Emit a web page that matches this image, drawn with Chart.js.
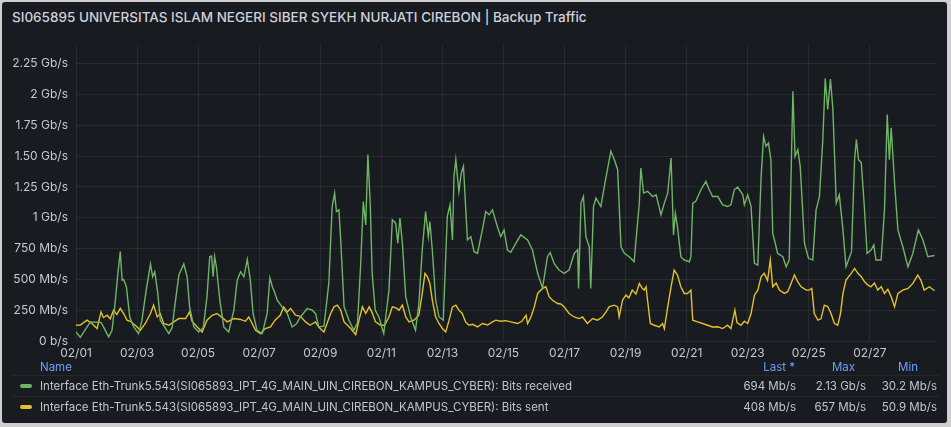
<!DOCTYPE html>
<html lang="en">
<head>
<meta charset="utf-8">
<title>Backup Traffic</title>
<script src="https://cdn.jsdelivr.net/npm/chart.js@4.4.1/dist/chart.umd.min.js"></script>
<style>
  body { margin: 0; width: 951px; height: 427px; background: #cfcfcf; font-family: Inter, "Noto Sans", sans-serif; overflow: hidden; }
  #panel { position: absolute; left: 2px; top: 2px; width: 945px; height: 421px; background: #181b1f; border-radius: 3px; }
  .txt { position: absolute; color: #c4c4d0; font-size: 11.5px; line-height: 14px; white-space: nowrap; }
  .hdr { color: #6e9fff; }
  .r { text-align: right; }
  #title { position: absolute; left: 12px; top: 8px; font-size: 13.5px; line-height: 18px; font-weight: 500; color: #d0d0dc; white-space: nowrap; }
  #wrap { position: absolute; left: 0; top: 30px; width: 951px; height: 333px; }
  .mark { position: absolute; left: 20px; width: 12px; height: 4px; border-radius: 2px; }
  .sep { position: absolute; left: 12px; width: 927px; height: 1px; background: rgba(204,204,220,0.08); }
</style>
</head>
<body>
<div id="panel"></div>
<div id="title">SI065895 UNIVERSITAS ISLAM NEGERI SIBER SYEKH NURJATI CIREBON | Backup Traffic</div>
<div id="wrap"><canvas id="chart"></canvas></div>

<div class="txt hdr" style="left:40px; top:360px;">Name</div>
<div class="txt hdr r" style="right:156px; top:360px;">Last *</div>
<div class="txt hdr r" style="right:96px; top:360px;">Max</div>
<div class="txt hdr r" style="right:33px; top:360px;">Min</div>
<div class="sep" style="top:375px;"></div>

<div class="mark" style="top:384px; background:#70b466;"></div>
<div class="txt" id="name0" style="left:40px; top:379px;"></div>
<div class="txt r" id="last0" style="right:155px; top:379px;"></div>
<div class="txt r" id="max0" style="right:85px; top:379px;"></div>
<div class="txt r" id="min0" style="right:14px; top:379px;"></div>
<div class="sep" style="top:396px;"></div>

<div class="mark" style="top:405px; background:#e3c12a;"></div>
<div class="txt" id="name1" style="left:40px; top:400px;"></div>
<div class="txt r" id="last1" style="right:155px; top:400px;"></div>
<div class="txt r" id="max1" style="right:85px; top:400px;"></div>
<div class="txt r" id="min1" style="right:14px; top:400px;"></div>

<script>
// x in days since 02/01 00:00, values in Mb/s
var recvDays = [
  0, 0.14, 0.47, 0.82, 0.90,
  1.07, 1.18, 1.29, 1.36, 1.45, 1.51, 1.56, 1.65, 1.76, 1.89,
  2.05, 2.16, 2.30, 2.44, 2.51, 2.58, 2.68, 2.76,
  3.04, 3.15, 3.26, 3.37, 3.53, 3.64, 3.72, 3.86,
  4.02, 4.17, 4.29, 4.38, 4.44, 4.49, 4.54, 4.60, 4.71, 4.84,
  5.00, 5.17, 5.28, 5.39, 5.50, 5.61, 5.71, 5.80, 5.93,
  6.10, 6.26, 6.35, 6.43, 6.50, 6.59, 6.75, 6.92,
  7.08, 7.22, 7.35, 7.57, 7.74, 7.85, 7.95,
  8.12, 8.28, 8.39, 8.47, 8.53, 8.61, 8.67, 8.78, 8.94,
  9.10, 9.22, 9.32, 9.41, 9.49, 9.56, 9.64, 9.70, 9.80, 9.92,
  10.08, 10.25, 10.36, 10.47, 10.54, 10.61, 10.69, 10.80, 10.96,
  11.12, 11.23, 11.34, 11.45, 11.54, 11.59, 11.67, 11.78, 11.89,
  12.03, 12.16, 12.25, 12.33, 12.38, 12.44, 12.54, 12.62, 12.69, 12.82, 12.93,
  13.04, 13.15, 13.31, 13.42, 13.53, 13.64, 13.80, 13.91,
  14.02, 14.13, 14.24, 14.40, 14.57, 14.79, 14.95,
  15.12, 15.28, 15.44, 15.53, 15.66, 15.82, 15.99,
  16.15, 16.32, 16.43, 16.46, 16.54, 16.62, 16.70, 16.81, 16.86, 16.95,
  17.03, 17.19, 17.36, 17.52, 17.65, 17.74, 17.85, 17.96,
  18.12, 18.28, 18.45, 18.50, 18.59, 18.72, 18.89,
  19.00, 19.16, 19.27, 19.38, 19.49, 19.57, 19.63, 19.70, 19.81, 19.92,
  20.09, 20.14, 20.20, 20.30, 20.47, 20.63, 20.74, 20.85,
  21.02, 21.18, 21.34, 21.45, 21.56, 21.67, 21.84, 21.89,
  22.00, 22.11, 22.22, 22.33, 22.44, 22.52, 22.60, 22.68, 22.76, 22.82, 22.98,
  23.15, 23.26, 23.36, 23.48, 23.55, 23.64, 23.72, 23.86, 23.99,
  24.13, 24.24, 24.35, 24.46, 24.54, 24.62, 24.71, 24.79, 24.90,
  25.00, 25.11, 25.22, 25.40, 25.50, 25.56, 25.63, 25.72, 25.82, 25.91,
  26.04, 26.13, 26.20, 26.37, 26.48, 26.57, 26.64, 26.70, 26.81, 26.92,
  27.08, 27.25, 27.41, 27.59, 27.74, 27.90, 28.12
];
var recvMbps = [
  73, 30, 155, 150, 114,
  33, 87, 331, 521, 725, 494, 500, 440, 195, 114,
  60, 169, 413, 625, 521, 562, 386, 169,
  60, 110, 331, 535, 625, 521, 277, 114,
  73, 110, 358, 684, 690, 521, 684, 600, 331, 114,
  73, 250, 494, 562, 521, 662, 494, 223, 87,
  60, 223, 513, 440, 400, 331, 277, 223,
  114, 140, 195, 264, 250, 220, 114,
  120, 467, 1091, 1200, 1050, 1064, 820, 277, 168,
  87, 150, 602, 1132, 942, 1512, 1091, 549, 250, 195,
  60, 413, 983, 956, 793, 997, 793, 358, 195,
  87, 300, 738, 1050, 847, 969, 738, 331, 195,
  169, 1010, 1105, 820, 1336, 1471, 1213, 1364, 1417, 820, 847,
  725, 712, 901, 1050, 1024, 1064, 928, 847,
  901, 738, 720, 790, 861, 820, 738,
  549, 430, 684, 717, 630, 576, 549,
  576, 712, 740, 427, 1119, 1172, 847, 765, 427, 1091,
  1160, 1091, 1331, 1540, 1458, 1390, 765, 712,
  684, 643, 1119, 1404, 1200, 1214, 1172,
  1186, 1024, 1119, 1200, 1485, 861, 1037, 928, 684, 657,
  643, 684, 1119, 1133, 1227, 1295, 1227, 1172,
  1172, 1105, 1091, 1105, 1227, 1249, 1186, 1105,
  1186, 1091, 630, 616, 1336, 1661, 1580, 1607, 1471, 874, 712,
  684, 602, 657, 2027, 1498, 1553, 1417, 793, 671,
  657, 1064, 1172, 1634, 2130, 1879, 2125, 1879, 1119,
  1186, 928, 602, 725, 1471, 1634, 1471, 1445, 1091, 712,
  738, 779, 657, 657, 1064, 1838, 1471, 1729, 1282, 901,
  765, 602, 712, 901, 820, 684, 694
];

var sentDays = [
  0, 0.14, 0.36, 0.53, 0.69, 0.82, 0.90,
  1.02, 1.12, 1.23, 1.34, 1.45, 1.56, 1.67, 1.78, 1.94,
  2.11, 2.27, 2.44, 2.54, 2.66, 2.76, 2.87,
  3.04, 3.20, 3.37, 3.59, 3.72, 3.80, 3.97,
  4.13, 4.29, 4.46, 4.62, 4.79, 4.95,
  5.17, 5.39, 5.55, 5.66, 5.77, 5.88,
  6.04, 6.20, 6.37, 6.52, 6.69, 6.80, 6.92,
  7.03, 7.19, 7.35, 7.52, 7.67, 7.84, 7.95,
  8.12, 8.34, 8.45, 8.56, 8.67, 8.78,
  9.00, 9.16, 9.27, 9.38, 9.49, 9.60, 9.70, 9.81, 9.98,
  10.11, 10.25, 10.36, 10.47, 10.58, 10.69, 10.80, 10.91,
  11.07, 11.23, 11.34, 11.43, 11.51, 11.59, 11.67, 11.78, 11.89, 12.00,
  12.11, 12.22, 12.33, 12.44, 12.54, 12.65, 12.76, 12.87, 12.99,
  13.15, 13.31, 13.48, 13.64, 13.75, 13.91,
  14.07, 14.24, 14.46, 14.60, 14.74, 14.79, 14.90,
  15.01, 15.12, 15.28, 15.39, 15.50, 15.61, 15.77, 15.88, 15.99,
  16.15, 16.32, 16.48, 16.59, 16.75, 16.92,
  17.08, 17.24, 17.36, 17.46, 17.63, 17.74, 17.79, 17.90,
  18.01, 18.11, 18.22, 18.34, 18.45, 18.54, 18.61, 18.67, 18.72, 18.81, 18.94,
  19.10, 19.21, 19.27, 19.38, 19.49, 19.59, 19.70, 19.81, 19.92,
  20.03, 20.14, 20.20, 20.36, 20.52, 20.69, 20.85,
  21.02, 21.18, 21.34, 21.45, 21.58, 21.65, 21.78, 21.89,
  22.00, 22.11, 22.22, 22.33, 22.44, 22.54, 22.65, 22.74, 22.82, 22.93,
  23.04, 23.20, 23.31, 23.42, 23.53, 23.64, 23.75, 23.92,
  24.01, 24.10, 24.18, 24.30, 24.40, 24.51, 24.62, 24.73, 24.84, 24.95,
  25.04, 25.12, 25.22, 25.39, 25.50, 25.61, 25.72, 25.83, 25.94,
  26.04, 26.15, 26.26, 26.37, 26.48, 26.59, 26.70, 26.81, 26.92,
  27.08, 27.25, 27.41, 27.57, 27.67, 27.78, 27.95, 28.12
];
var sentMbps = [
  128, 130, 169, 140, 101, 236, 190,
  209, 180, 250, 215, 264, 223, 169, 160, 128,
  87, 142, 223, 291, 195, 223, 142,
  128, 155, 182, 182, 236, 160, 114,
  73, 169, 209, 223, 190, 155,
  182, 175, 160, 195, 142, 87,
  60, 101, 115, 169, 209, 277, 236,
  264, 209, 200, 155, 128, 155, 114,
  73, 223, 277, 291, 250, 155,
  101, 51, 169, 277, 223, 277, 230, 155, 128,
  130, 195, 277, 270, 250, 291, 195, 155,
  169, 209, 386, 549, 521, 467, 331, 195, 142, 101,
  73, 169, 277, 291, 250, 223, 155, 128, 135,
  114, 142, 130, 155, 169, 160,
  165, 155, 142, 160, 209, 142, 195,
  277, 386, 427, 440, 358, 331, 304, 300, 277,
  223, 195, 182, 195, 142, 182,
  169, 195, 236, 277, 291, 277, 195, 331,
  372, 350, 413, 380, 467, 430, 413, 440, 331, 142, 128,
  114, 142, 100, 277, 440, 576, 535, 440, 386,
  386, 413, 169, 155, 142, 128, 114,
  115, 101, 128, 101, 250, 150, 128, 160,
  142, 223, 372, 413, 521, 549, 490, 657, 440, 470,
  413, 386, 400, 467, 535, 480, 440, 413,
  413, 427, 223, 169, 180, 291, 280, 223, 142, 128,
  223, 386, 494, 549, 589, 549, 521, 480, 453,
  440, 470, 413, 440, 386, 420, 358, 277, 386,
  413, 427, 467, 535, 494, 413, 440, 408
];

var xTickDays = [0, 2, 4, 6, 8, 10, 12, 14, 16, 18, 20, 22, 24, 26];
var xTickLabels = ['02/01', '02/03', '02/05', '02/07', '02/09', '02/11', '02/13', '02/15', '02/17', '02/19', '02/21', '02/23', '02/25', '02/27'];
var yTickValues = [0, 250, 500, 750, 1000, 1250, 1500, 1750, 2000, 2250];
var yTickLabels = ['0 b/s', '250 Mb/s', '500 Mb/s', '750 Mb/s', '1 Gb/s', '1.25 Gb/s', '1.50 Gb/s', '1.75 Gb/s', '2 Gb/s', '2.25 Gb/s'];

var seriesNames = [
  'Interface Eth-Trunk5.543(SI065893_IPT_4G_MAIN_UIN_CIREBON_KAMPUS_CYBER): Bits received',
  'Interface Eth-Trunk5.543(SI065893_IPT_4G_MAIN_UIN_CIREBON_KAMPUS_CYBER): Bits sent'
];
var legendLast = ['694 Mb/s', '408 Mb/s'];
var legendMax = ['2.13 Gb/s', '657 Mb/s'];
var legendMin = ['30.2 Mb/s', '50.9 Mb/s'];

for (var i = 0; i < 2; i++) {
  document.getElementById('name' + i).textContent = seriesNames[i];
  document.getElementById('last' + i).textContent = legendLast[i];
  document.getElementById('max' + i).textContent = legendMax[i];
  document.getElementById('min' + i).textContent = legendMin[i];
}

function points(xs, ys) {
  var out = [];
  for (var i = 0; i < xs.length; i++) out.push({ x: xs[i], y: ys[i] });
  return out;
}

var gridColor = 'rgba(204,204,220,0.09)';
var tickColor = '#c7c7d3';

new Chart(document.getElementById('chart').getContext('2d'), {
  type: 'line',
  data: {
    datasets: [
      {
        label: seriesNames[0],
        data: points(recvDays, recvMbps),
        borderColor: '#70b466',
        borderWidth: 1.4,
        pointRadius: 0,
        tension: 0,
        fill: false
      },
      {
        label: seriesNames[1],
        data: points(sentDays, sentMbps),
        borderColor: '#e3c12a',
        borderWidth: 1.4,
        pointRadius: 0,
        tension: 0,
        fill: false
      }
    ]
  },
  options: {
    responsive: true,
    maintainAspectRatio: false,
    animation: false,
    layout: { padding: { left: 4, right: 14, top: 15, bottom: 0 } },
    plugins: { legend: { display: false }, tooltip: { enabled: false } },
    scales: {
      x: {
        type: 'linear',
        min: 0,
        max: 28.2,
        afterBuildTicks: function (scale) {
          scale.ticks = xTickDays.map(function (v) { return { value: v }; });
        },
        afterFit: function (scale) { scale.height = 22; },
        grid: { color: gridColor, drawTicks: false },
        border: { display: false },
        ticks: {
          autoSkip: false,
          maxRotation: 0,
          padding: 5,
          color: tickColor,
          font: { family: 'Inter', size: 12 },
          callback: function (value) {
            var k = xTickDays.indexOf(value);
            return k >= 0 ? xTickLabels[k] : '';
          }
        }
      },
      y: {
        min: 0,
        max: 2400,
        afterBuildTicks: function (scale) {
          scale.ticks = yTickValues.map(function (v) { return { value: v }; });
        },
        afterFit: function (scale) { scale.width = 72; },
        grid: { color: gridColor, drawTicks: false },
        border: { display: false },
        ticks: {
          padding: 8,
          color: tickColor,
          font: { family: 'Inter', size: 12 },
          callback: function (value) {
            var k = yTickValues.indexOf(value);
            return k >= 0 ? yTickLabels[k] : '';
          }
        }
      }
    }
  }
});
</script>
</body>
</html>
